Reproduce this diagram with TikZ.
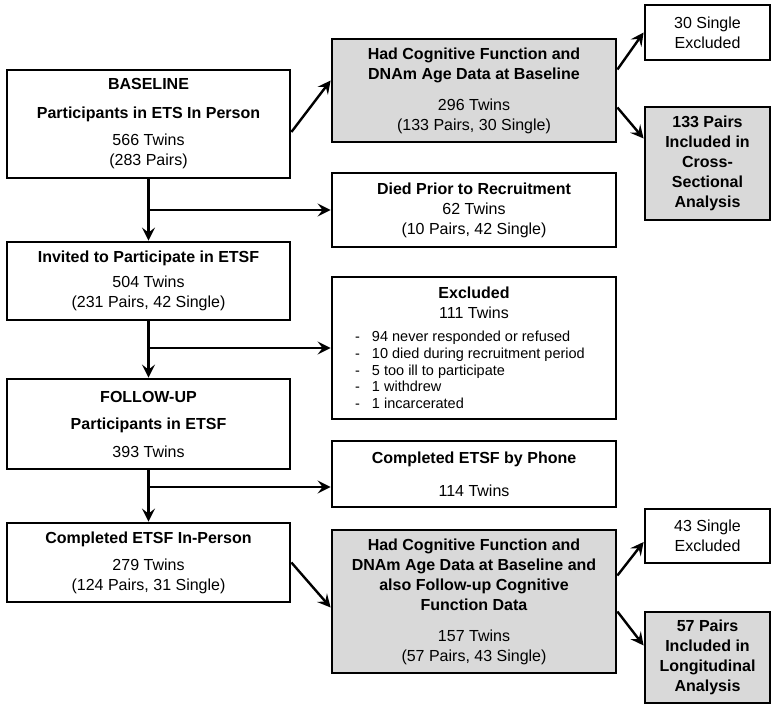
\documentclass[tikz,border=0pt]{standalone}
\usepackage{fontspec}
\setmainfont{Liberation Sans}
\usetikzlibrary{arrows.meta}
\usetikzlibrary{positioning}
\tikzstyle{box}=[rectangle,draw=black,line width=2.8pt,fill=white,align=center,inner sep=0pt,font=\fontsize{16}{20}\selectfont]
\tikzstyle{leftbox}=[box,minimum width=283pt]
\tikzstyle{midbox}=[box,minimum width=284pt]
\tikzstyle{sidebox}=[box,minimum width=125pt]
\tikzstyle{shaded}=[fill=black!15]
\tikzstyle{edge}=[draw,line width=2.4pt,-{Stealth[length=13pt,width=13pt,inset=5pt]}]

\begin{document}
\begin{tikzpicture}[x=1pt,y=-1pt]
    \useasboundingbox (0,0) rectangle (776,709);

    % left column
    \node[leftbox,minimum height=108pt] (base) at (148.5,124) {\textbf{BASELINE}\\[9pt]\textbf{Participants in ETS In Person}\\[7pt]566 Twins\\(283 Pairs)};
    \node[leftbox,minimum height=78pt] (invited) at (148.5,281) {\textbf{Invited to Participate in ETSF}\\[5pt]504 Twins\\(231 Pairs, 42 Single)};
    \node[leftbox,minimum height=90pt] (followup) at (148.5,424) {\textbf{FOLLOW-UP}\\[7pt]\textbf{Participants in ETSF}\\[8pt]393 Twins};
    \node[leftbox,minimum height=79pt] (inperson) at (148.5,562.5) {\textbf{Completed ETSF In-Person}\\[7pt]279 Twins\\(124 Pairs, 31 Single)};

    % middle column
    \node[midbox,shaded,minimum height=103pt] (cogbase) at (474,90.5) {\textbf{Had Cognitive Function and}\\\textbf{DNAm Age Data at Baseline}\\[11pt]296 Twins\\(133 Pairs, 30 Single)};
    \node[midbox,minimum height=74pt] (died) at (474,210) {\textbf{Died Prior to Recruitment}\\62 Twins\\(10 Pairs, 42 Single)};
    \node[midbox,minimum height=142pt] (excl) at (474,348) {\textbf{Excluded}\\111 Twins\\[3pt]{\fontsize{14.5}{16.7}\selectfont\parbox[t]{238pt}{%
        \makebox[17pt][l]{-}94 never responded or refused\\
        \makebox[17pt][l]{-}10 died during recruitment period\\
        \makebox[17pt][l]{-}5 too ill to participate\\
        \makebox[17pt][l]{-}1 withdrew\\
        \makebox[17pt][l]{-}1 incarcerated}}};
    \node[midbox,minimum height=66pt] (phone) at (474,474) {\textbf{Completed ETSF by Phone}\\[13pt]114 Twins};
    \node[midbox,shaded,minimum height=143pt] (cogfu) at (474,601.5) {\textbf{Had Cognitive Function and}\\\textbf{DNAm Age Data at Baseline and}\\\textbf{also Follow-up Cognitive}\\\textbf{Function Data}\\[11pt]157 Twins\\(57 Pairs, 43 Single)};

    % right column
    \node[sidebox,minimum height=55pt] (single1) at (707.5,32.5) {30 Single\\Excluded};
    \node[sidebox,shaded,minimum height=113pt] (pairs1) at (707.5,163.5) {\textbf{133 Pairs}\\\textbf{Included in}\\\textbf{Cross-}\\\textbf{Sectional}\\\textbf{Analysis}};
    \node[sidebox,minimum height=54pt] (single2) at (707.5,536) {43 Single\\Excluded};
    \node[sidebox,shaded,minimum height=91pt] (pairs2) at (707.5,657.5) {\textbf{57 Pairs}\\\textbf{Included in}\\\textbf{Longitudinal}\\\textbf{Analysis}};

    % main flow
    \foreach \source/\dest in {base/invited, invited/followup, followup/inperson}
        \path[edge] (\source) -- (\dest);

    \coordinate (b1) at (base.south |- died.west);
    \coordinate (b2) at (invited.south |- excl.west);
    \coordinate (b3) at (148.5,487);
    \foreach \source/\dest in {b1/died, b2/excl}
        \path[edge] (\source) -- (\dest);
    \path[edge] (b3) -- (b3 -| phone.west);

    % side branches
    \path[edge] ([yshift=-8pt]base.east) -- ([yshift=10pt]cogbase.west);
    \path[edge] ([yshift=21pt]cogbase.east) -- (single1.west);
    \path[edge] ([yshift=-17pt]cogbase.east) -- ([yshift=25pt]pairs1.west);
    \path[edge] (inperson.east) -- ([yshift=-6pt]cogfu.west);
    \path[edge] ([yshift=26pt]cogfu.east) -- ([yshift=-6pt]single2.west);
    \path[edge] ([yshift=-10pt]cogfu.east) -- ([yshift=12pt]pairs2.west);
\end{tikzpicture}
\end{document}
